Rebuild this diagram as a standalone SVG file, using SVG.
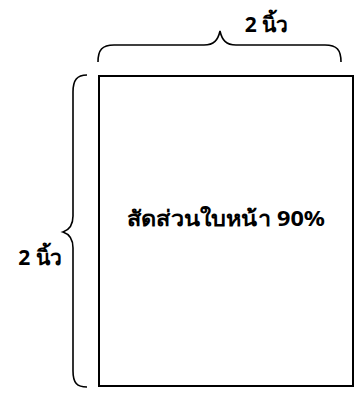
<svg xmlns="http://www.w3.org/2000/svg" width="358" height="394" viewBox="0 0 358 394">
<style>
.brace{fill:none;stroke:#000;stroke-width:1.6}
.lbl{font-family:"Noto Sans","DejaVu Sans",sans-serif;font-weight:bold;fill:#000}
</style>
<rect width="358" height="394" fill="#fff"/>
<g id="connectors">
<path class="brace" d="M98,62 C98,50 102,45 114,45 L204,45 C214,45 218,40 220,31 C222,40 226,45 236,45 L325,45 C337,45 341,50 341,62"/>
<path class="brace" d="M87,75 C77,75 73,80 73,92 L73,216 C73,226 69,230 63,232 C69,234 73,238 73,248 L73,371 C73,383 77,387 87,387"/>
</g>
<g id="page">
<rect x="99" y="76" width="254" height="310" fill="#fff" stroke="#000" stroke-width="2"/>
<text class="lbl" x="127" y="226" font-size="21.5" textLength="198" lengthAdjust="spacingAndGlyphs">สัดส่วนใบหน้า 90%</text>
</g>
<g id="top-label">
<text class="lbl" x="266.5" y="32" font-size="21" text-anchor="middle">2 นิ้ว</text>
</g>
<g id="left-label">
<text class="lbl" x="40" y="265" font-size="21" text-anchor="middle">2 นิ้ว</text>
</g>
</svg>
